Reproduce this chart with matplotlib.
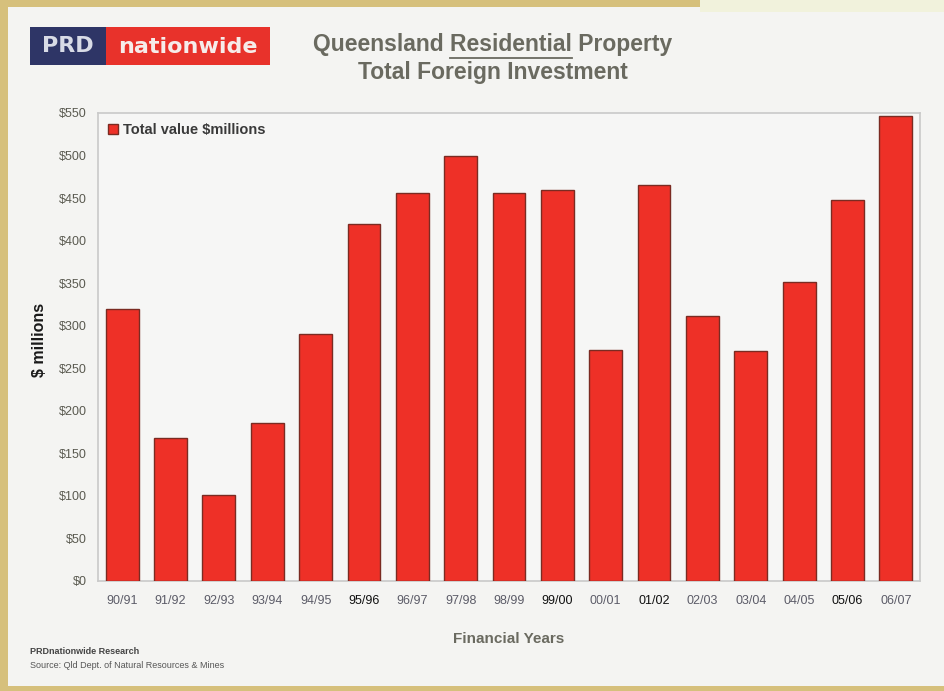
import matplotlib.pyplot as plt
from matplotlib.patches import Rectangle
from matplotlib.lines import Line2D

# ---------- data ----------
years = ['90/91', '91/92', '92/93', '93/94', '94/95', '95/96', '96/97', '97/98', '98/99',
         '99/00', '00/01', '01/02', '02/03', '03/04', '04/05', '05/06', '06/07']
values = [320, 168, 101, 186, 290, 419, 456, 500, 456, 460, 271, 465, 311, 270, 351, 448, 547]
dark_years = ['95/96', '99/00', '01/02', '05/06']
yticks = [0, 50, 100, 150, 200, 250, 300, 350, 400, 450, 500, 550]
ytick_labels = ['$' + str(v) for v in yticks]

W, H = 944, 691
bar_red = '#ee3027'
grey_txt = '#6a6a60'
sans = ['Liberation Sans', 'DejaVu Sans']

plt.rcParams['font.family'] = sans

fig = plt.figure(figsize=(W / 100, H / 100), dpi=100)
fig.patch.set_facecolor('#d6c07c')

def px(x, y, w, h):
    # pixel box (top-left origin) -> figure fraction
    return (x / W, 1 - (y + h) / H), w / W, h / H

# inner panel + frame
xy, w, h = px(8, 7, 936, 679)
fig.add_artist(Rectangle(xy, w, h, transform=fig.transFigure, facecolor='#f4f4f2', edgecolor='none', zorder=0))
xy, w, h = px(700, 0, 244, 12)
fig.add_artist(Rectangle(xy, w, h, transform=fig.transFigure, facecolor='#f1f2dc', edgecolor='none', zorder=0))

# logo
xy, w, h = px(30, 27, 76, 38)
fig.add_artist(Rectangle(xy, w, h, transform=fig.transFigure, facecolor='#2e3566', edgecolor='none'))
xy, w, h = px(106, 27, 164, 38)
fig.add_artist(Rectangle(xy, w, h, transform=fig.transFigure, facecolor='#e8322b', edgecolor='none'))
fig.text(68 / W, 1 - 46 / H, 'PRD', color='#d8dbe6', fontsize=16, fontweight='bold',
         family=['DejaVu Sans'], ha='center', va='center')
fig.text(188 / W, 1 - 47 / H, 'nationwide', color='#f6ecea', fontsize=16, fontweight='bold',
         family=['DejaVu Sans'], ha='center', va='center')

# title
title1 = 'Queensland Residential Property'
tfs = 16.5
tx, ty = 493 / W, 1 - 45 / H
t1 = fig.text(tx, ty, title1, color=grey_txt, fontsize=tfs, fontweight='bold', ha='center', va='center')
fig.text(tx, 1 - 72 / H, 'Total Foreign Investment', color=grey_txt, fontsize=tfs,
         fontweight='bold', ha='center', va='center')

# underline "Residential"
renderer = fig.canvas.get_renderer()
full_bb = t1.get_window_extent(renderer)
tmp1 = fig.text(0, 0, 'Queensland Residential', fontsize=tfs, fontweight='bold')
tmp2 = fig.text(0, 0, 'Residential', fontsize=tfs, fontweight='bold')
w_qr = tmp1.get_window_extent(renderer).width
w_r = tmp2.get_window_extent(renderer).width
tmp1.remove()
tmp2.remove()
x_end = full_bb.x0 + w_qr
x_start = x_end - w_r
y_line = full_bb.y0 - 1
fig.add_artist(Line2D([x_start / W, x_end / W], [y_line / H, y_line / H],
                      transform=fig.transFigure, color=grey_txt, linewidth=1.3))

# chart
ax = fig.add_axes([98 / W, 1 - 581 / H, 822 / W, 468 / H])
ax.set_facecolor('#f6f6f5')
x = list(range(len(years)))
ax.bar(x, values, width=0.68, color=bar_red, edgecolor='#7a2b22', linewidth=1.0,
       label='Total value $millions', zorder=3)
ax.set_xlim(-0.5, len(years) - 0.5)
ax.set_ylim(0, 550)
ax.set_yticks(yticks)
ax.set_yticklabels([l.replace('$', r'\$') for l in ytick_labels])
ax.set_xticks(x)
ax.set_xticklabels(years)
for lab in ax.get_xticklabels():
    lab.set_color('#111111' if lab.get_text() in dark_years else '#5c5c68')
ax.tick_params(axis='x', length=0, labelsize=9, pad=10)
ax.tick_params(axis='y', length=0, labelsize=9, labelcolor='#5a5a50', pad=8)
for s in ax.spines.values():
    s.set_color('#c9c9c9')
    s.set_linewidth(1.2)

ax.set_xlabel('Financial Years', fontsize=11, fontweight='bold', color=grey_txt, labelpad=18)
fig.text(40 / W, 1 - 340 / H, r'\$ millions', rotation=90, fontsize=11.5, fontweight='bold',
         color='#1a1a1a', ha='center', va='center')

leg = ax.legend(loc='upper left', frameon=False, handlelength=0.7,
                handleheight=0.7, handletextpad=0.3, borderaxespad=0.3,
                prop={'weight': 'bold', 'size': 10.5})
for t in leg.get_texts():
    t.set_color('#3a3a3a')
    t.set_text(r'Total value \$millions')

# footer
fig.text(30 / W, 1 - 652 / H, 'PRDnationwide Research', fontsize=6.5, fontweight='bold',
         color='#444444', va='center')
fig.text(30 / W, 1 - 666 / H, 'Source: Qld Dept. of Natural Resources & Mines', fontsize=6.5,
         color='#555555', va='center')

plt.savefig('out.png', dpi=100, facecolor=fig.get_facecolor())
